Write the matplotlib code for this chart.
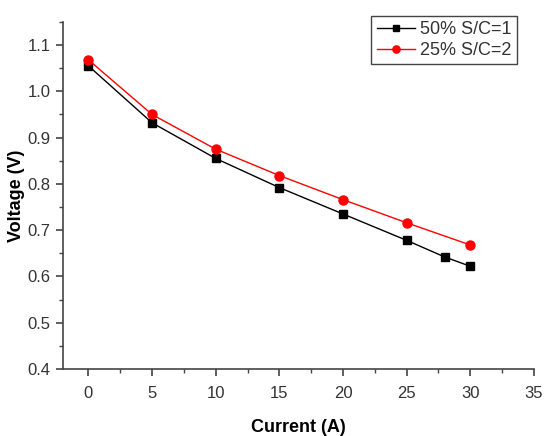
import matplotlib
matplotlib.use("Agg")
import matplotlib.pyplot as plt
from matplotlib.ticker import MultipleLocator

plt.rcParams['font.family'] = ['Liberation Sans', 'DejaVu Sans']

x_black = [0, 5, 10, 15, 20, 25, 28, 30]
y_black = [1.055, 0.932, 0.855, 0.792, 0.735, 0.678, 0.642, 0.622]
x_red = [0, 5, 10, 15, 20, 25, 30]
y_red = [1.068, 0.950, 0.875, 0.818, 0.766, 0.716, 0.668]
labels = ["50% S/C=1", "25% S/C=2"]

fig = plt.figure(figsize=(5.45, 4.36), dpi=100)
ax = fig.add_axes([0.1156, 0.1537, 0.864, 0.796])
ax.plot(x_black, y_black, color='black', marker='s', markersize=6, lw=1, label=labels[0])
ax.plot(x_red, y_red, color='red', marker='o', markersize=6.5, lw=1, label=labels[1])

ax.set_xlim(-2, 35)
ax.set_ylim(0.4, 1.15)
ax.xaxis.set_major_locator(MultipleLocator(5))
ax.xaxis.set_minor_locator(MultipleLocator(2.5))
ax.yaxis.set_major_locator(MultipleLocator(0.1))
ax.yaxis.set_minor_locator(MultipleLocator(0.05))
ax.yaxis.set_major_formatter(plt.FormatStrFormatter('%.1f'))
for s in ['top', 'right']:
    ax.spines[s].set_visible(False)
for s in ['left', 'bottom']:
    ax.spines[s].set_color('#444444')
    ax.spines[s].set_linewidth(1.2)
ax.tick_params(which='major', direction='out', length=5, width=1.2, color='#444444',
               labelsize=12, labelcolor='#333333')
ax.tick_params(axis='x', which='major', pad=7)
ax.tick_params(axis='y', which='major', pad=4)
ax.tick_params(which='minor', direction='out', length=3, width=1, color='#444444')
ax.set_xlabel('Current (A)', fontsize=13, fontweight='bold', labelpad=13)
ax.set_ylabel('Voltage (V)', fontsize=13, fontweight='bold', labelpad=2)

leg = fig.legend(loc='upper right', bbox_to_anchor=(0.9486, 0.9633), fontsize=13,
                 fancybox=False, edgecolor='#444444', framealpha=1, handlelength=2.1,
                 borderpad=0.3, labelspacing=0.2, handletextpad=0.3, borderaxespad=0,
                 markerscale=0.8)
leg.get_frame().set_linewidth(1.0)
for t in leg.get_texts():
    t.set_color('#333333')

fig.savefig('out.png', dpi=100)
